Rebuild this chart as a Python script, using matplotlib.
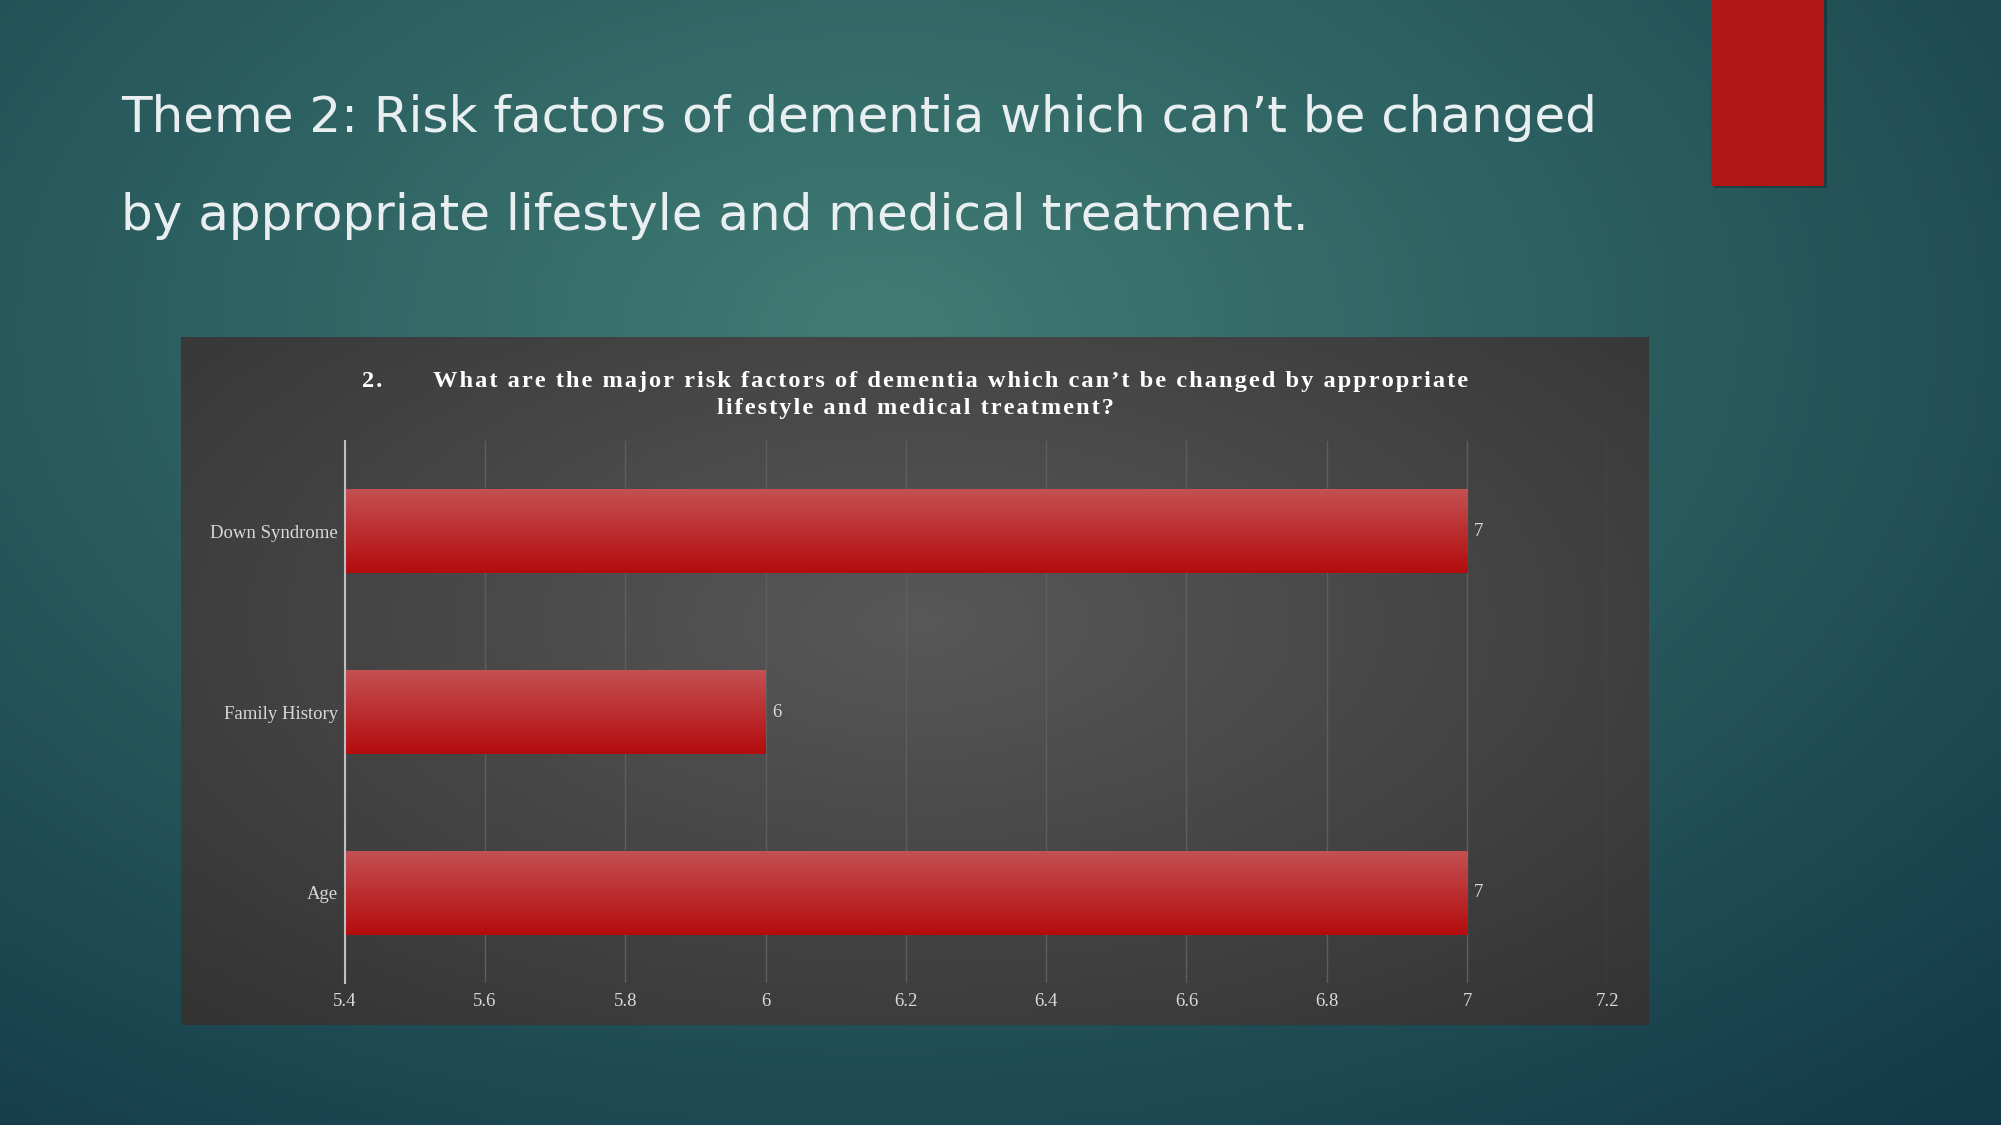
import numpy as np
import matplotlib
matplotlib.use("Agg")
import matplotlib.pyplot as plt
from matplotlib.patches import Rectangle

# data
categories = ["Age", "Family History", "Down Syndrome"]
values = [7, 6, 7]
xticks = [5.4, 5.6, 5.8, 6.0, 6.2, 6.4, 6.6, 6.8, 7.0, 7.2]
xtick_labels = ["5.4", "5.6", "5.8", "6", "6.2", "6.4", "6.6", "6.8", "7", "7.2"]

title_lines = ["Theme 2: Risk factors of dementia which can\u2019t be changed",
               "by appropriate lifestyle and medical treatment."]
chart_title_lines = ["2.      What are the major risk factors of dementia which can\u2019t be changed by appropriate",
                     "lifestyle and medical treatment?"]


def radial(w, h, cx, cy, rx, ry, inner, outer):
    yy, xx = np.mgrid[0:h, 0:w]
    d = np.sqrt(((xx - cx) / rx) ** 2 + ((yy - cy) / ry) ** 2)
    d = np.clip(d, 0, 1)[..., None]
    inner = np.array(inner) / 255.0
    outer = np.array(outer) / 255.0
    return inner * (1 - d) + outer * d


def spaced(s):
    # fake the wide letter spacing of the original with hair spaces
    return "\u200a".join(s)


fig = plt.figure(figsize=(20.01, 11.25), dpi=100)

# slide background
bg = fig.add_axes([0, 0, 1, 1])
bg.imshow(radial(400, 225, 175, 65, 330, 210, (64, 124, 116), (18, 57, 71)),
          extent=[0, 1, 0, 1], aspect="auto", origin="upper")
bg.set_xlim(0, 1)
bg.set_ylim(0, 1)
bg.axis("off")

# red accent block with a soft shadow
bg.add_patch(Rectangle((0.8565, 0.833), 0.0565, 0.17, color="#000000", alpha=0.25, lw=0))
bg.add_patch(Rectangle((0.855, 0.835), 0.0565, 0.17, color="#b01816", lw=0))

for y, line in zip([0.8953, 0.8082], title_lines):
    bg.text(0.0605, y, line, color="#e9eff1", fontsize=36,
            family="DejaVu Sans", va="center")

# chart panel
panel = fig.add_axes([0.0905, 0.0889, 0.7336, 0.6116])
panel.imshow(radial(300, 160, 150, 66, 260, 150, (88, 88, 88), (44, 44, 44)),
             extent=[0, 1, 0, 1], aspect="auto", origin="upper")
panel.set_xlim(0, 1)
panel.set_ylim(0, 1)
panel.axis("off")
for y, line in zip([0.935, 0.896], chart_title_lines):
    panel.text(0.5, y, spaced(line), color="white", fontsize=17.6, fontweight="bold",
               family=["Liberation Serif", "DejaVu Serif"], ha="center", va="center")

# bar chart
ax = fig.add_axes([0.1722, 0.1262, 0.6311, 0.4818])
ax.patch.set_alpha(0)
ypos = np.arange(len(categories))
bars = ax.barh(ypos, [v - xticks[0] for v in values], left=xticks[0],
               height=0.464, color="#b81a1c", zorder=3)

grad = np.linspace(0, 1, 64)[:, None, None]
top = np.array([196, 80, 82]) / 255.0
bottom = np.array([180, 12, 14]) / 255.0
grad_img = top * (1 - grad) + bottom * grad
for b in bars:
    x0, y0, w, h = b.get_x(), b.get_y(), b.get_width(), b.get_height()
    im = ax.imshow(grad_img, extent=[x0, x0 + w, y0 + h, y0], aspect="auto",
                   origin="lower", zorder=4)
    im.set_clip_path(b)

for y, v in zip(ypos, values):
    ax.text(v + 0.01, y, str(v), color="#d9d9d9", fontsize=13.5,
            family="Liberation Serif", va="center", ha="left", zorder=5)

ax.set_xlim(xticks[0], xticks[-1])
ax.set_ylim(-0.5, len(categories) - 0.5)
ax.set_xticks(xticks)
ax.set_xticklabels(xtick_labels)
ax.set_yticks(ypos)
ax.set_yticklabels(categories)
ax.tick_params(length=0, colors="#d9d9d9", labelsize=13.5, pad=5)
for lab in ax.get_xticklabels() + ax.get_yticklabels():
    lab.set_family("Liberation Serif")
ax.tick_params(axis="x", pad=7)
ax.grid(axis="x", color="#5e5e5e", lw=1.0, zorder=1)
for s in ["top", "right", "bottom"]:
    ax.spines[s].set_visible(False)
ax.spines["left"].set_color("#bfbfbf")
ax.spines["left"].set_linewidth(1.5)
ax.spines["left"].set_zorder(6)

fig.savefig("out.png", dpi=100)
